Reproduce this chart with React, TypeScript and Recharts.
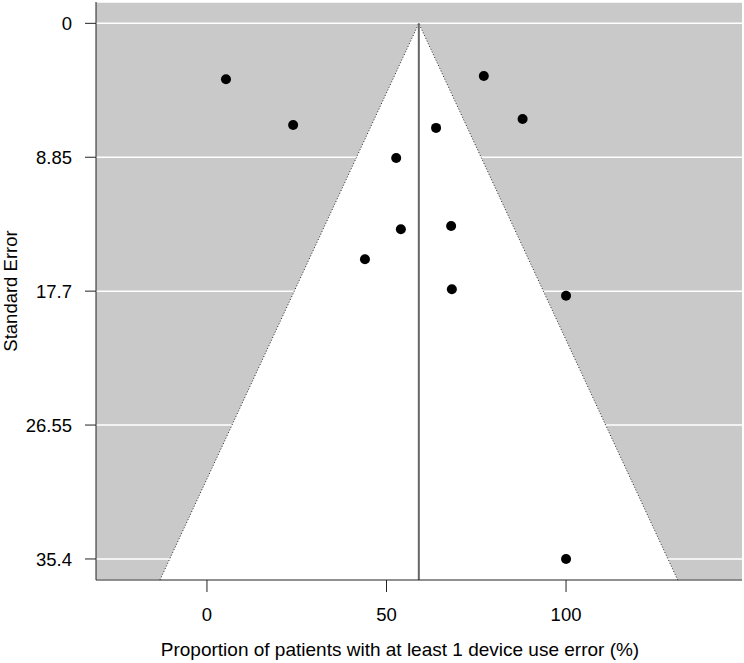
import { Area, CartesianGrid, ComposedChart, Label, ReferenceLine, Scatter, XAxis, YAxis } from 'recharts';

// study estimates: proportion (%) and standard error
const proportion = [5.3, 24.0, 52.7, 63.8, 77.1, 87.9, 54.0, 68.0, 44.0, 68.2, 100, 100];
const stdError = [3.69, 6.72, 8.9, 6.91, 3.48, 6.32, 13.61, 13.39, 15.59, 17.57, 18.0, 35.4];

// funnel (pseudo confidence region) corners
const funnelX = [-13.1, 59, 131.1];
const funnelSE = [36.79, 0, 36.79];
const pooled = 59;

const xTicks = [0, 50, 100];
const yTicks = [0, 8.85, 17.7, 26.55, 35.4];
const xDomain = [-30.9, 149];
const yDomain = [-1.41, 36.79];

const studies = proportion.map((x, i) => ({ x, se: stdError[i] }));
const funnel = funnelX.map((x, i) => ({ x, se: funnelSE[i] }));

const font = '"Liberation Sans", Arial, Helvetica, sans-serif';

const Dot = (props: any) => <circle cx={props.cx} cy={props.cy} r={5} fill="#000" />;

const YLabel = (props: any) => {
  const vb = props.viewBox;
  const cx = 17;
  const cy = vb.y + vb.height / 2;
  return (
    <text x={cx} y={cy} transform={`rotate(-90, ${cx}, ${cy})`} textAnchor="middle"
      fontSize={18.5} fontFamily={font} fill="#000">
      Standard Error
    </text>
  );
};

const XLabel = () => (
  <text x={400} y={656} textAnchor="middle" fontSize={19} fontFamily={font} fill="#000">
    Proportion of patients with at least 1 device use error (%)
  </text>
);

export default function App() {
  return (
    <div style={{ position: 'absolute', left: 0, top: 0, background: '#fff' }}>
      <ComposedChart width={744} height={663} margin={{ top: 2, right: 2, left: 0, bottom: 0 }}>
        <CartesianGrid vertical={false} fill="#c9c9c9" stroke="#fff" strokeWidth={1.5} />
        <XAxis
          type="number"
          dataKey="x"
          domain={xDomain}
          ticks={xTicks}
          allowDataOverflow
          height={83}
          tickSize={12}
          tickMargin={16}
          stroke="#222"
          tick={{ fill: '#000', fontSize: 18.5, fontFamily: font }}
        >
          <Label content={XLabel} />
        </XAxis>
        <YAxis
          type="number"
          dataKey="se"
          reversed
          domain={yDomain}
          ticks={yTicks}
          allowDataOverflow
          width={96}
          tickSize={11}
          tickMargin={13}
          stroke="#222"
          tick={{ fill: '#000', fontSize: 18.5, fontFamily: font }}
        >
          <Label content={YLabel} />
        </YAxis>
        <Area
          data={funnel}
          dataKey="se"
          type="linear"
          baseValue={yDomain[1]}
          fill="#fff"
          fillOpacity={1}
          stroke="#222"
          strokeWidth={1}
          strokeDasharray="1 2"
          dot={false}
          activeDot={false}
          isAnimationActive={false}
        />
        <ReferenceLine
          segment={[{ x: pooled, y: 0 }, { x: pooled, y: yDomain[1] }]}
          stroke="#666"
          strokeWidth={2}
        />
        <Scatter data={studies} dataKey="se" shape={Dot} isAnimationActive={false} />
      </ComposedChart>
    </div>
  );
}
